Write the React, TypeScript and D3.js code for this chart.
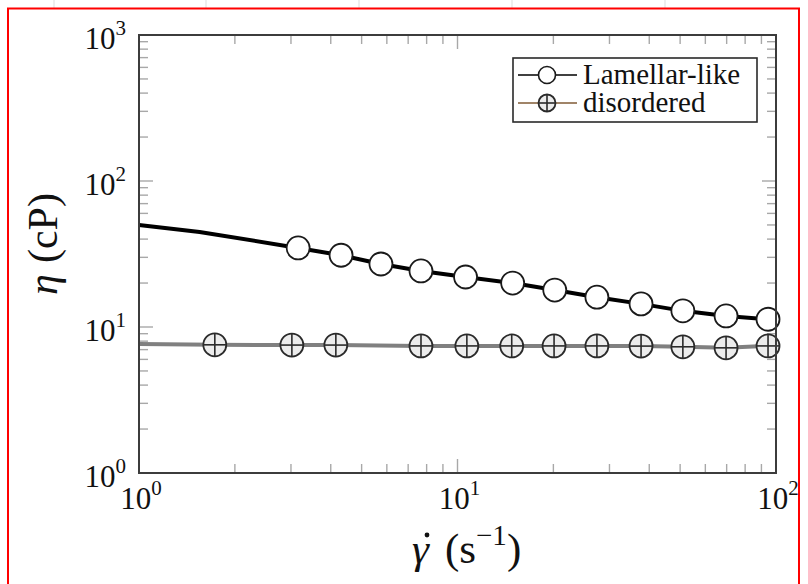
import React from "react";
import * as d3 from "d3";

// ---- data ----
const lamellarX = [1, 1.55, 3.16, 4.31, 5.75, 7.68, 10.6, 14.9, 20.2, 27.4, 37.7, 51.0, 69.7, 94.4];
const lamellarY = [50, 44.8, 34.8, 31.0, 27.0, 24.2, 22.0, 20.0, 17.9, 16.0, 14.4, 12.9, 11.9, 11.3];
const lamellarFirstMarker = 2;

const disorderedX = [1, 1.73, 3.02, 4.15, 7.68, 10.7, 14.8, 20.1, 27.4, 37.7, 51.0, 69.7, 94.4];
const disorderedY = [7.65, 7.55, 7.52, 7.52, 7.42, 7.42, 7.42, 7.42, 7.42, 7.40, 7.32, 7.2, 7.42];
const disorderedFirstMarker = 1;

const xTickExps = [0, 1, 2];
const yTickExps = [0, 1, 2, 3];
const legendLabels = ["Lamellar-like", "disordered"];

const W = 808;
const H = 584;
const M = { left: 139, right: 776, top: 35, bottom: 473 };
const FONT = "Liberation Serif, DejaVu Serif, serif";

export default function App() {
  const x = d3.scaleLog().domain([1, 100]).range([M.left, M.right]);
  const y = d3.scaleLog().domain([1, 1000]).range([M.bottom, M.top]);

  const line = d3
    .line<[number, number]>()
    .x((d) => x(d[0]))
    .y((d) => y(d[1]))
    .curve(d3.curveLinear);

  const lamPts: [number, number][] = lamellarX.map((v, i) => [v, lamellarY[i]]);
  const disPts: [number, number][] = disorderedX.map((v, i) => [v, disorderedY[i]]);

  const xMinor: number[] = [];
  for (let d = 0; d < 2; d++) for (let k = 2; k <= 9; k++) xMinor.push(k * Math.pow(10, d));
  const yMinor: number[] = [];
  for (let d = 0; d < 3; d++) for (let k = 2; k <= 9; k++) yMinor.push(k * Math.pow(10, d));

  const tickColor = "#a8a8a8";
  const majorLen = 14;
  const minorLen = 9;
  const R = 11.5;
  const ts: React.CSSProperties = { fontFamily: FONT };

  const oplus = (cx: number, cy: number, r: number, key: string) => (
    <g key={key}>
      <circle cx={cx} cy={cy} r={r} fill="#ececec" stroke="#2a2a2a" strokeWidth={1.8} />
      <line x1={cx - r} x2={cx + r} y1={cy} y2={cy} stroke="#2a2a2a" strokeWidth={1.6} />
      <line x1={cx} x2={cx} y1={cy - r} y2={cy + r} stroke="#2a2a2a" strokeWidth={1.6} />
    </g>
  );

  return (
    <svg
      width={W}
      height={H}
      style={{ position: "absolute", left: 0, top: 0, display: "block", background: "#fff" }}
    >
      <rect x={0} y={0} width={W} height={H} fill="#fff" />
      {/* faint guide marks at the very top */}
      {[54, 206, 359, 512, 665].map((px) => (
        <line key={"g" + px} x1={px} x2={px} y1={0} y2={8} stroke="#dddddd" strokeWidth={1} />
      ))}
      {/* red frame */}
      <path d={`M8,${H + 2} L8,8.5 L799,8.5 L799,${H + 2}`} fill="none" stroke="#ff0000" strokeWidth={2} />

      {/* ticks */}
      {xMinor.map((v) => (
        <g key={"xm" + v}>
          <line x1={x(v)} x2={x(v)} y1={M.bottom} y2={M.bottom - minorLen} stroke={tickColor} strokeWidth={1.4} />
          <line x1={x(v)} x2={x(v)} y1={M.top} y2={M.top + minorLen} stroke={tickColor} strokeWidth={1.4} />
        </g>
      ))}
      {xTickExps.map((e) => (
        <g key={"xM" + e}>
          <line x1={x(Math.pow(10, e))} x2={x(Math.pow(10, e))} y1={M.bottom} y2={M.bottom - majorLen} stroke={tickColor} strokeWidth={1.4} />
          <line x1={x(Math.pow(10, e))} x2={x(Math.pow(10, e))} y1={M.top} y2={M.top + majorLen} stroke={tickColor} strokeWidth={1.4} />
        </g>
      ))}
      {yMinor.map((v) => (
        <g key={"ym" + v}>
          <line x1={M.left} x2={M.left + minorLen} y1={y(v)} y2={y(v)} stroke={tickColor} strokeWidth={1.4} />
          <line x1={M.right} x2={M.right - minorLen} y1={y(v)} y2={y(v)} stroke={tickColor} strokeWidth={1.4} />
        </g>
      ))}
      {yTickExps.map((e) => (
        <g key={"yM" + e}>
          <line x1={M.left} x2={M.left + majorLen} y1={y(Math.pow(10, e))} y2={y(Math.pow(10, e))} stroke={tickColor} strokeWidth={1.4} />
          <line x1={M.right} x2={M.right - majorLen} y1={y(Math.pow(10, e))} y2={y(Math.pow(10, e))} stroke={tickColor} strokeWidth={1.4} />
        </g>
      ))}

      {/* series lines */}
      <path d={line(disPts) || ""} fill="none" stroke="#808080" strokeWidth={4} strokeLinejoin="round" />
      <path d={line(lamPts) || ""} fill="none" stroke="#000" strokeWidth={4} strokeLinejoin="round" />

      {/* markers */}
      {disPts.slice(disorderedFirstMarker).map((p, i) => oplus(x(p[0]), y(p[1]), R, "d" + i))}
      {lamPts.slice(lamellarFirstMarker).map((p, i) => (
        <circle key={"l" + i} cx={x(p[0])} cy={y(p[1])} r={R} fill="#fff" stroke="#1a1a1a" strokeWidth={1.8} />
      ))}

      {/* frame */}
      <rect
        x={M.left}
        y={M.top}
        width={M.right - M.left}
        height={M.bottom - M.top}
        fill="none"
        stroke="#3c3c3c"
        strokeWidth={2}
      />

      {/* tick labels */}
      {xTickExps.map((e) => (
        <text key={"xl" + e} x={x(Math.pow(10, e)) + 2} y={M.bottom + 36} textAnchor="middle" fontSize={31} fill="#111" style={ts}>
          10<tspan fontSize={21} dy={-14}>{e}</tspan>
        </text>
      ))}
      {yTickExps.map((e) => (
        <text key={"yl" + e} x={M.left - 13} y={y(Math.pow(10, e)) + 14} textAnchor="end" fontSize={31} fill="#111" style={ts}>
          10<tspan fontSize={21} dy={-14}>{e}</tspan>
        </text>
      ))}

      {/* axis titles */}
      <text x={412} y={563} fontSize={43} fill="#111" style={ts}>
        <tspan fontStyle="italic">γ</tspan>
        <tspan dx={16}>(s</tspan>
        <tspan fontSize={29} dy={-18}>−1</tspan>
        <tspan dy={18}>)</tspan>
      </text>
      <circle cx={427} cy={535} r={2.4} fill="#111" />
      <text transform={`translate(57,244) rotate(-90)`} textAnchor="middle" fontSize={42} fill="#111" style={ts}>
        <tspan fontStyle="italic">η</tspan>
        <tspan dx={11}>(cP)</tspan>
      </text>

      {/* legend */}
      <rect x={513} y={58} width={244} height={64} fill="#fff" stroke="#2a2a2a" strokeWidth={1.6} />
      <line x1={518} x2={577} y1={75} y2={75} stroke="#000" strokeWidth={1.6} />
      <circle cx={547} cy={75} r={8.5} fill="#fff" stroke="#1a1a1a" strokeWidth={1.6} />
      <line x1={518} x2={577} y1={103} y2={103} stroke="#a08468" strokeWidth={2} />
      {oplus(547, 103, 8.5, "leg")}
      {legendLabels.map((t, i) => (
        <text key={t} x={583} y={75 + i * 28 + 9} fontSize={29} fill="#111" style={ts}>
          {t}
        </text>
      ))}
    </svg>
  );
}
